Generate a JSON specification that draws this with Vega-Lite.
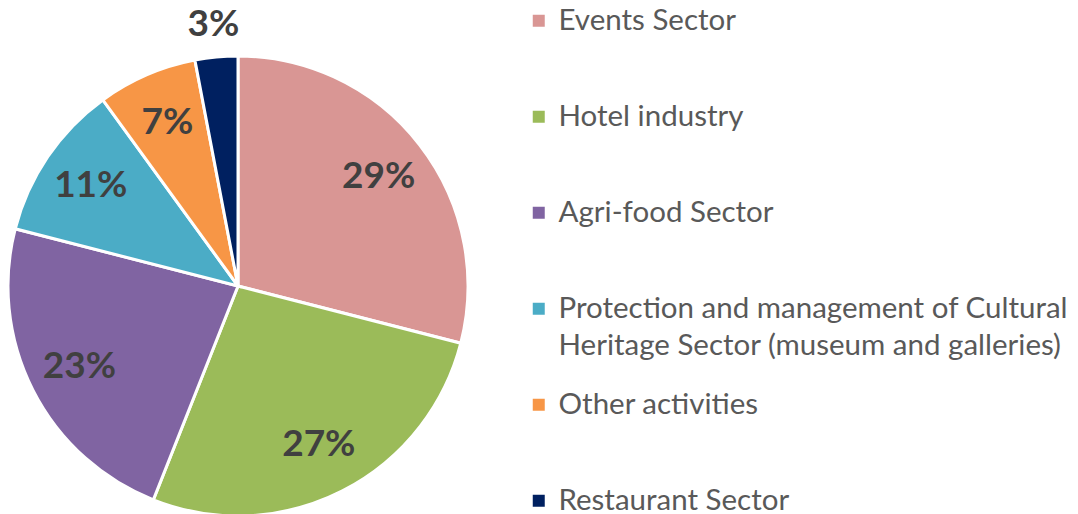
{
  "$schema": "https://vega.github.io/schema/vega-lite/v6.json",
  "width": 476,
  "height": 456,
  "autosize": {"type": "none"},
  "padding": {"left": 0, "top": 58, "right": 602, "bottom": 0},
  "background": "white",
  "config": {"style": {"guide-label": {"lineHeight": 37}}},
  "data": {
    "values": [
      {"sector": "Events Sector", "value": 0.29, "order": 1},
      {"sector": "Hotel industry", "value": 0.27, "order": 2},
      {"sector": "Agri-food Sector", "value": 0.23, "order": 3},
      {"sector": "Protection and management of Cultural Heritage Sector (museum and galleries)", "value": 0.11, "order": 4},
      {"sector": "Other activities", "value": 0.07, "order": 5},
      {"sector": "Restaurant Sector", "value": 0.03, "order": 6}
    ]
  },
  "encoding": {
    "theta": {"field": "value", "type": "quantitative", "stack": true},
    "order": {"field": "order", "type": "quantitative"}
  },
  "layer": [
    {
      "mark": {"type": "arc", "outerRadius": 230, "stroke": "white", "strokeWidth": 3},
      "encoding": {
        "color": {
          "field": "sector",
          "type": "nominal",
          "scale": {
            "domain": ["Events Sector", "Hotel industry", "Agri-food Sector", "Protection and management of Cultural Heritage Sector (museum and galleries)", "Other activities", "Restaurant Sector"],
            "range": ["#D99694", "#9BBB59", "#8064A2", "#4BACC6", "#F79646", "#002060"]
          },
          "legend": {
            "orient": "none",
            "legendX": 524,
            "legendY": -52,
            "title": null,
            "symbolType": "square",
            "symbolSize": 144,
            "symbolStrokeWidth": 0,
            "labelFont": "Lato",
            "labelFontSize": 29.5,
            "labelColor": "#595959",
            "labelOffset": 5,
            "labelLimit": 700,
            "gridAlign": "all",
            "rowPadding": 28,
            "padding": 0,
            "labelExpr": "datum.label == 'Protection and management of Cultural Heritage Sector (museum and galleries)' ? ['Protection and management of Cultural', 'Heritage Sector (museum and galleries)'] : datum.label"
          }
        }
      }
    },
    {
      "mark": {"type": "text", "font": "Lato", "fontWeight": "bold", "fontSize": 37, "fill": "#404040"},
      "encoding": {
        "radius": {"value": 178},
        "text": {"condition": {"test": "datum.value < 0.05", "value": ""}, "field": "value", "type": "quantitative", "format": ".0%"}
      }
    },
    {
      "mark": {"type": "text", "font": "Lato", "fontWeight": "bold", "fontSize": 37, "fill": "#404040"},
      "encoding": {
        "radius": {"value": 262},
        "text": {"condition": {"test": "datum.value >= 0.05", "value": ""}, "field": "value", "type": "quantitative", "format": ".0%"}
      }
    }
  ]
}
